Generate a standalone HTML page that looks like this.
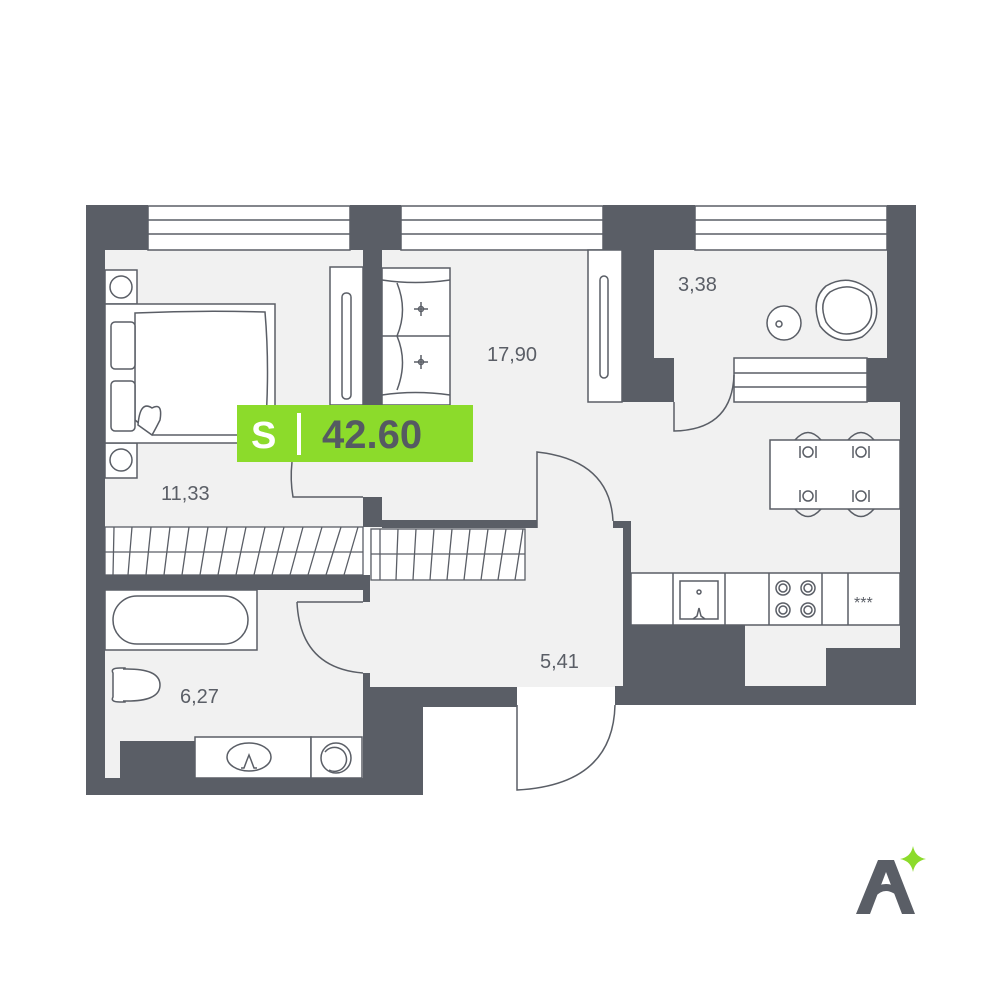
<!DOCTYPE html>
<html><head><meta charset="utf-8"><style>
html,body{margin:0;padding:0;background:#fff;}
svg{display:block;}
text{font-family:"Liberation Sans",sans-serif;}
</style></head><body>
<svg width="1000" height="1000" viewBox="0 0 1000 1000" xmlns="http://www.w3.org/2000/svg">
<g fill="#f1f1f1">
<rect x="105" y="250" width="258" height="277"/>
<rect x="382" y="250" width="240" height="270"/>
<rect x="622" y="402" width="278" height="171"/>
<rect x="654" y="250" width="233" height="108"/>
<rect x="674" y="355" width="60" height="50"/>
<rect x="360" y="400" width="25" height="100"/>
<rect x="370" y="520" width="253" height="167"/>
<rect x="360" y="598" width="14" height="80"/>
<rect x="105" y="590" width="258" height="188"/>
<rect x="745" y="625" width="155" height="61"/>
</g>
<!-- windows -->
<g fill="#fff" stroke="#5a5e66" stroke-width="1.5">
<rect x="148" y="206" width="202" height="44"/>
<rect x="401" y="206" width="202" height="44"/>
<rect x="695" y="206" width="192" height="44"/>
<rect x="734" y="358" width="133" height="44"/>
</g>
<g stroke="#5a5e66" stroke-width="1.5">
<line x1="148" y1="220" x2="350" y2="220"/><line x1="148" y1="234" x2="350" y2="234"/>
<line x1="401" y1="220" x2="603" y2="220"/><line x1="401" y1="234" x2="603" y2="234"/>
<line x1="695" y1="220" x2="887" y2="220"/><line x1="695" y1="234" x2="887" y2="234"/>
<line x1="734" y1="373" x2="867" y2="373"/><line x1="734" y1="387" x2="867" y2="387"/>
</g>
<!-- walls -->
<g fill="#5a5e66">
<rect x="86" y="205" width="62" height="45"/>
<rect x="86" y="205" width="19" height="590"/>
<rect x="350" y="205" width="51" height="45"/>
<rect x="363" y="250" width="19" height="155"/>
<rect x="363" y="497" width="19" height="30"/>
<rect x="382" y="520" width="155" height="8"/>
<rect x="603" y="205" width="92" height="45"/>
<rect x="622" y="250" width="32" height="152"/>
<rect x="654" y="358" width="20" height="44"/>
<rect x="887" y="205" width="29" height="153"/>
<rect x="867" y="358" width="33" height="44"/>
<rect x="900" y="358" width="16" height="347"/>
<rect x="613" y="521" width="17" height="7"/>
<rect x="623" y="521" width="8" height="180"/>
<rect x="623" y="625" width="122" height="80"/>
<rect x="826" y="648" width="74" height="57"/>
<rect x="615" y="686" width="301" height="19"/>
<rect x="86" y="575" width="284" height="15"/>
<rect x="363" y="575" width="7" height="27"/>
<rect x="363" y="673" width="7" height="14"/>
<rect x="363" y="687" width="154" height="20"/>
<rect x="363" y="687" width="60" height="108"/>
<rect x="86" y="778" width="337" height="17"/>
<rect x="120" y="741" width="75" height="37"/>
</g>
<!-- hatching closets -->
<g fill="#fff" stroke="#5a5e66" stroke-width="1.3">
<rect x="105" y="527" width="258" height="48"/>
<rect x="371" y="529" width="154" height="51"/>
<line x1="105" y1="552" x2="363" y2="552"/>
<line x1="371" y1="554" x2="525" y2="554"/>
</g>
<g stroke="#5a5e66" stroke-width="1.3">
<path d="M114 527L113 575M132 527L128 575M151 527L146 575M170 527L164 575M189 527L182 575M208 527L200 575M227 527L218 575M246 527L236 575M265 527L254 575M284 527L272 575M303 527L290 575M322 527L308 575M341 527L326 575M358 527L344 575"/>
<path d="M380 529L380 580M398 529L396 580M416 529L413 580M434 529L430 580M452 529L447 580M470 529L464 580M488 529L481 580M506 529L498 580M523 529L515 580"/>
</g>
<!-- furniture -->
<g fill="#fff" stroke="#5a5e66" stroke-width="1.5">
<rect x="105" y="270" width="32" height="34"/>
<rect x="105" y="443" width="32" height="35"/>
<rect x="105" y="304" width="170" height="139"/>
<path d="M135 313Q200 310 265 312Q270 370 265 435L153 435L135 420Z"/>
<rect x="111" y="322" width="24" height="47" rx="4"/>
<rect x="111" y="381" width="24" height="50" rx="4"/>
<path d="M138 425Q140 400 152 408Q163 402 160 420Q155 430 152 435Z"/>
<rect x="330" y="267" width="33" height="138"/>
<rect x="342" y="293" width="9" height="106" rx="4"/>
<rect x="382" y="268" width="68" height="137"/>
<path d="M382 280Q415 285 450 280M382 395Q415 390 450 395M382 336L450 336M397 283Q408 310 397 336Q408 362 397 390"/>
<rect x="588" y="250" width="34" height="152"/>
<rect x="600" y="276" width="8" height="102" rx="4"/>
<rect x="105" y="590" width="152" height="60"/>
<rect x="113" y="596" width="135" height="48" rx="24"/>
<path d="M113 673Q110 668 120 668L125 668L125 702L120 702Q110 702 113 697Z"/>
<path d="M123 669Q160 668 160 685Q160 702 123 701"/>
<rect x="195" y="737" width="116" height="41"/>
<ellipse cx="249" cy="757" rx="22" ry="14"/>
<rect x="311" y="737" width="51" height="41"/>
<circle cx="336" cy="758" r="15"/>
<rect x="770" y="440" width="130" height="69"/>
<rect x="631" y="573" width="269" height="52"/>
<rect x="680" y="581" width="38" height="38"/>
<circle cx="784" cy="323" r="17"/>
<path d="M826 286Q850 272 872 292Q885 320 862 337Q836 347 820 326Q810 300 826 286Z"/>
<path d="M830 292Q850 280 868 296Q878 320 860 331Q838 340 826 322Q818 302 830 292Z"/>
</g>
<g fill="none" stroke="#5a5e66" stroke-width="1.5">
<path d="M673 573V625M725 573V625M769 573V625M822 573V625M848 573V625"/>
<circle cx="783" cy="588" r="7"/><circle cx="808" cy="588" r="7"/><circle cx="783" cy="610" r="7"/><circle cx="808" cy="610" r="7"/>
<circle cx="783" cy="588" r="4"/><circle cx="808" cy="588" r="4"/><circle cx="783" cy="610" r="4"/><circle cx="808" cy="610" r="4"/>
<circle cx="699" cy="592" r="2"/>
<path d="M693 619L697 616L699 608L701 616L705 619"/>
<path d="M795 440Q808 425 821 440M848 440Q861 425 874 440M795 509Q808 524 821 509M848 509Q861 524 874 509"/>
<circle cx="808" cy="452" r="5"/><circle cx="861" cy="452" r="5"/><circle cx="808" cy="496" r="5"/><circle cx="861" cy="496" r="5"/>
<path d="M800 446V458M816 446V458M853 446V458M869 446V458M800 490V502M816 490V502M853 490V502M869 490V502"/>
<path d="M421 302V316M414 309H428M421 355V369M414 362H428"/>
<circle cx="421" cy="309" r="2.5"/><circle cx="421" cy="362" r="2.5"/>
<circle cx="121" cy="287" r="11"/><circle cx="121" cy="460" r="11"/>
<circle cx="779" cy="324" r="3"/>
<path d="M292 462Q290 480 293 497L363 497"/>
<path d="M674 402V431Q732 430 734 375"/>
<path d="M537 528V452Q610 460 613 521"/>
<path d="M297 602L363 602M297 602Q300 668 363 673"/>
<path d="M517 705V790Q613 785 615 705"/>
<path d="M329 770A12 12 0 1 0 325 752"/>
<path d="M241 768L244 768L247 760L249 755L251 760L254 768L257 768"/>
</g>
<text x="854" y="608" font-size="16" fill="#5a5e66">***</text>
<g font-size="20" fill="#5a5e66">
<text x="161" y="500">11,33</text>
<text x="487" y="361">17,90</text>
<text x="678" y="291">3,38</text>
<text x="180" y="703">6,27</text>
<text x="540" y="668">5,41</text>
</g>
<rect x="237" y="405" width="236" height="57" fill="#8cdb2b"/>
<text x="251" y="448" font-size="38" font-weight="bold" fill="#fff">S</text>
<rect x="297" y="413" width="4" height="42" fill="#fff"/>
<text x="322" y="448" font-size="40" font-weight="bold" fill="#555a62">42.60</text>
<path d="M856 914L878 860H894L915 914H902L886 872L870 914Z" fill="#5a5e66"/>
<path d="M872 895Q885 880 902 895" stroke="#5a5e66" stroke-width="7" fill="none"/>
<path d="M913 846Q915 857 926 859Q915 861 913 872Q911 861 900 859Q911 857 913 846Z" fill="#8cdb2b"/>
</svg>
</body></html>
